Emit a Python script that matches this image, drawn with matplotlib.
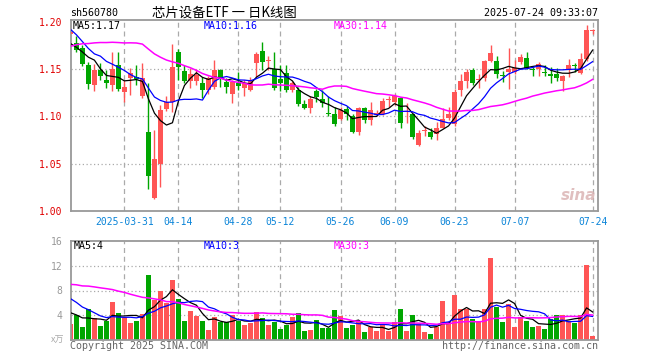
import numpy as np
import pandas as pd
import matplotlib.pyplot as plt

# daily K data of sh560780 (芯片设备ETF)
opens = [1.187, 1.177, 1.172, 1.154, 1.133, 1.149, 1.138, 1.133, 1.154, 1.126,
         1.140, 1.142, 1.121, 1.0835, 1.0135, 1.050, 1.108, 1.115, 1.168, 1.148,
         1.137, 1.137, 1.135, 1.128, 1.131, 1.149, 1.136, 1.124, 1.135, 1.1295,
         1.128, 1.156, 1.169, 1.158, 1.150, 1.139, 1.146, 1.128, 1.128, 1.113,
         1.109, 1.127, 1.118, 1.103, 1.103, 1.0975, 1.108, 1.100, 1.0835, 1.109,
         1.0965, 1.1016, 1.103, 1.117, 1.1155, 1.119, 1.105, 1.102, 1.070, 1.084,
         1.0835, 1.081, 1.088, 1.098, 1.092, 1.128, 1.137, 1.149, 1.138, 1.140,
         1.158, 1.159, 1.144, 1.147, 1.147, 1.157, 1.162, 1.150, 1.150, 1.147,
         1.145, 1.145, 1.1375, 1.150, 1.154, 1.146, 1.161, 1.190]
highs = [1.199, 1.185, 1.175, 1.157, 1.155, 1.156, 1.149, 1.168, 1.168, 1.138,
         1.151, 1.154, 1.156, 1.135, 1.0855, 1.112, 1.122, 1.176, 1.171, 1.154,
         1.151, 1.150, 1.142, 1.143, 1.160, 1.150, 1.140, 1.138, 1.147, 1.138,
         1.142, 1.168, 1.179, 1.164, 1.168, 1.154, 1.154, 1.137, 1.131, 1.117,
         1.121, 1.129, 1.128, 1.122, 1.110, 1.110, 1.111, 1.102, 1.110, 1.110,
         1.115, 1.107, 1.119, 1.121, 1.124, 1.120, 1.114, 1.103, 1.086, 1.0895,
         1.088, 1.0945, 1.109, 1.110, 1.129, 1.145, 1.150, 1.151, 1.145, 1.160,
         1.175, 1.164, 1.148, 1.172, 1.160, 1.166, 1.168, 1.152, 1.157, 1.154,
         1.152, 1.151, 1.144, 1.161, 1.156, 1.167, 1.197, 1.192]
lows = [1.185, 1.168, 1.153, 1.129, 1.127, 1.138, 1.130, 1.127, 1.127, 1.115,
        1.123, 1.133, 1.119, 1.023, 1.0125, 1.025, 1.106, 1.105, 1.138, 1.135,
        1.130, 1.133, 1.119, 1.124, 1.129, 1.131, 1.125, 1.114, 1.128, 1.122,
        1.127, 1.142, 1.149, 1.149, 1.128, 1.127, 1.126, 1.126, 1.111, 1.108,
        1.104, 1.115, 1.110, 1.100, 1.090, 1.096, 1.096, 1.082, 1.080, 1.093,
        1.091, 1.100, 1.101, 1.110, 1.112, 1.088, 1.093, 1.0765, 1.0685, 1.079,
        1.0765, 1.0755, 1.088, 1.096, 1.090, 1.122, 1.130, 1.133, 1.130, 1.137,
        1.157, 1.140, 1.136, 1.129, 1.145, 1.155, 1.150, 1.143, 1.143, 1.143,
        1.135, 1.137, 1.127, 1.142, 1.147, 1.145, 1.159, 1.187]
closes = [1.189, 1.170, 1.155, 1.134, 1.149, 1.143, 1.135, 1.150, 1.129, 1.1305,
          1.146, 1.139, 1.140, 1.037, 1.055, 1.1066, 1.1155, 1.152, 1.152, 1.137,
          1.145, 1.144, 1.128, 1.141, 1.149, 1.142, 1.131, 1.136, 1.132, 1.135,
          1.138, 1.166, 1.157, 1.159, 1.130, 1.135, 1.128, 1.135, 1.113, 1.109,
          1.118, 1.120, 1.114, 1.102, 1.092, 1.107, 1.103, 1.0835, 1.1086, 1.0965,
          1.107, 1.104, 1.116, 1.118, 1.122, 1.093, 1.1055, 1.078, 1.0825, 1.0845,
          1.078, 1.088, 1.097, 1.102, 1.126, 1.137, 1.147, 1.135, 1.139, 1.159,
          1.167, 1.145, 1.143, 1.150, 1.151, 1.1625, 1.151, 1.149, 1.155, 1.146,
          1.143, 1.141, 1.143, 1.1545, 1.153, 1.161, 1.191, 1.1905]
# volume, 万手
volumes = [2.57, 4.0, 2.1, 5.0, 3.5, 2.3, 3.05, 6.1, 4.3, 3.7,
           2.7, 3.05, 4.2, 10.5, 6.5, 7.9, 6.0, 9.7, 6.7, 3.1,
           4.7, 3.9, 3.05, 1.66, 3.7, 2.9, 2.9, 4.0, 3.15, 2.4,
           2.7, 4.5, 3.5, 2.46, 2.94, 1.8, 2.46, 3.7, 4.3, 1.5,
           1.66, 3.26, 1.9, 1.95, 4.87, 3.85, 1.93, 2.4, 3.05, 1.28,
           2.03, 1.44, 2.35, 1.44, 2.9, 5.0, 1.44, 4.0, 2.57, 1.28,
           0.96, 2.03, 6.26, 2.83, 7.2, 5.0, 5.0, 3.4, 3.0, 5.0,
           13.3, 5.4, 2.9, 5.8, 2.1, 3.7, 3.05, 2.1, 2.25, 1.76,
           3.4, 4.0, 4.0, 3.05, 2.7, 4.0, 12.2, 0.7]

# days before the visible window (estimated from where the MA lines start)
prev_close = [1.120, 1.124, 1.128, 1.127, 1.132, 1.136, 1.141, 1.138, 1.143, 1.142,
              1.1445, 1.175, 1.195, 1.207, 1.212, 1.205, 1.210, 1.198, 1.2125, 1.210,
              1.228, 1.227, 1.207, 1.206, 1.167, 1.190, 1.180, 1.1615, 1.1645]
prev_volume = [6.2, 7.5, 6.0, 7.4, 6.8, 7.0, 10.5, 12.0, 9.8, 11.5,
               10.7, 11.5, 13.5, 11.0, 12.8, 14.2, 10.5, 12.0, 11.3, 10.7,
               10.2, 9.6, 9.3, 8.5, 7.3, 5.8, 4.5, 5.1, 4.1]

holidays = ['2025-04-04', '2025-05-01', '2025-05-02', '2025-05-05', '2025-06-02']
days = pd.bdate_range('2025-03-18', '2025-07-24')
days = days[~days.isin(pd.to_datetime(holidays))]

tick_dates = ['2025-03-31', '2025-04-14', '2025-04-28', '2025-05-12', '2025-05-26',
              '2025-06-09', '2025-06-23', '2025-07-07', '2025-07-24']
tick_labels = ['2025-03-31', '04-14', '04-28', '05-12', '05-26',
               '06-09', '06-23', '07-07', '07-24']

RED = '#ff5555'
GREEN = '#00a600'
GRID = '#aaaaaa'
MONO = 'DejaVu Sans Mono'
CJK = ['Noto Sans CJK SC', 'DejaVu Sans']


def ma(prev, vals, n):
    s = pd.Series(list(prev) + list(vals)).rolling(n).mean()
    return s.iloc[len(prev):].values


o = np.array(opens)
h = np.array(highs)
l = np.array(lows)
c = np.array(closes)
v = np.array(volumes)
x = np.arange(len(c))
up = c >= o
cols = np.where(up, RED, GREEN)
tick_pos = [days.get_loc(pd.Timestamp(d)) for d in tick_dates]

fig = plt.figure(figsize=(6.6, 3.6), dpi=100)
ax = fig.add_axes([71 / 660, 1 - 211 / 360, 527 / 660, 191 / 360])
axv = fig.add_axes([71 / 660, 1 - 340 / 360, 527 / 660, 99 / 360])

for a in (ax, axv):
    a.set_xlim(0.1, 87.9)
    for sp in a.spines.values():
        sp.set_color('#999999')
        sp.set_linewidth(1.3)
    a.tick_params(length=0)
    for t in tick_pos:
        a.axvline(t, color=GRID, lw=0.9, ls=(0, (4, 3)), zorder=0)

# price panel
ax.set_ylim(1.0, 1.2018)
for lvl in (1.05, 1.10, 1.15):
    ax.axhline(lvl, color=GRID, lw=0.9, ls=(0, (1, 2)), zorder=0)
ax.vlines(x, l, h, colors=cols, lw=1.0, zorder=2)
body = np.maximum(np.abs(c - o), 0.0011)
ax.bar(x, body, bottom=np.minimum(o, c), width=0.78, color=cols, lw=0, zorder=3)
ax.plot(x, ma(prev_close, c, 5), color='black', lw=0.9, zorder=4)
ax.plot(x, ma(prev_close, c, 10), color='#0000ff', lw=0.9, zorder=4)
ax.plot(x, ma(prev_close, c, 30), color='#ff00ff', lw=1.1, zorder=4)
ax.set_yticks([1.00, 1.05, 1.10, 1.15, 1.20])
ax.set_yticklabels(['%.2f' % t for t in [1.00, 1.05, 1.10, 1.15, 1.20]],
                   color='#e00000', fontsize=7, family=MONO)
ax.tick_params(axis='y', pad=6)
ax.set_xticks(tick_pos)
ax.set_xticklabels(tick_labels, color='#0a84d8', fontsize=7, family=MONO)
ax.tick_params(axis='x', pad=4)
ax.text(0.93, 0.06, 'sina', transform=ax.transAxes, fontsize=11, color='#d9b0b0',
        style='italic', weight='bold', alpha=0.8)

# volume panel
axv.set_ylim(0, 16)
for lvl in (4, 8, 12):
    axv.axhline(lvl, color=GRID, lw=0.9, ls=(0, (1, 2)), zorder=0)
axv.bar(x, v, width=0.78, color=cols, lw=0, zorder=2)
axv.plot(x, ma(prev_volume, v, 5), color='black', lw=0.9, zorder=4)
axv.plot(x, ma(prev_volume, v, 10), color='#0000ff', lw=0.9, zorder=4)
axv.plot(x, ma(prev_volume, v, 30), color='#ff00ff', lw=1.1, zorder=4)
axv.set_yticks([4, 8, 12, 16])
axv.set_yticklabels(['4', '8', '12', '16'], color='#999999', fontsize=7, family=MONO)
axv.tick_params(axis='y', pad=6)
axv.set_xticks([])


def ftext(px, py, s, **kw):
    fig.text(px / 660, 1 - py / 360, s, va='center', **kw)


ftext(70, 13, 'sh560780', fontsize=7.2, family=MONO, color='black')
ftext(224, 13, '芯片设备ETF 一 日K线图', fontsize=9.6, family=CJK, color='black', ha='center')
ftext(598, 13, '2025-07-24 09:33:07', fontsize=7.2, family=MONO, color='black', ha='right')
ftext(73, 26, 'MA5:1.17', fontsize=7.2, family=MONO, color='black')
ftext(204, 26, 'MA10:1.16', fontsize=7.2, family=MONO, color='#0000ff')
ftext(334, 26, 'MA30:1.14', fontsize=7.2, family=MONO, color='#ff00ff')
ftext(74, 246, 'MA5:4', fontsize=7.2, family=MONO, color='black')
ftext(204, 246, 'MA10:3', fontsize=7.2, family=MONO, color='#0000ff')
ftext(334, 246, 'MA30:3', fontsize=7.2, family=MONO, color='#ff00ff')
ftext(64, 340, 'x万', fontsize=6.5, family=CJK, color='#aaaaaa', ha='right')
ftext(70, 346, 'Copyright 2025 SINA.COM', fontsize=7.2, family=MONO, color='#666666')
ftext(598, 346, 'http://finance.sina.com.cn', fontsize=7.2, family=MONO, color='#666666', ha='right')

fig.savefig('out.png', dpi=100)
